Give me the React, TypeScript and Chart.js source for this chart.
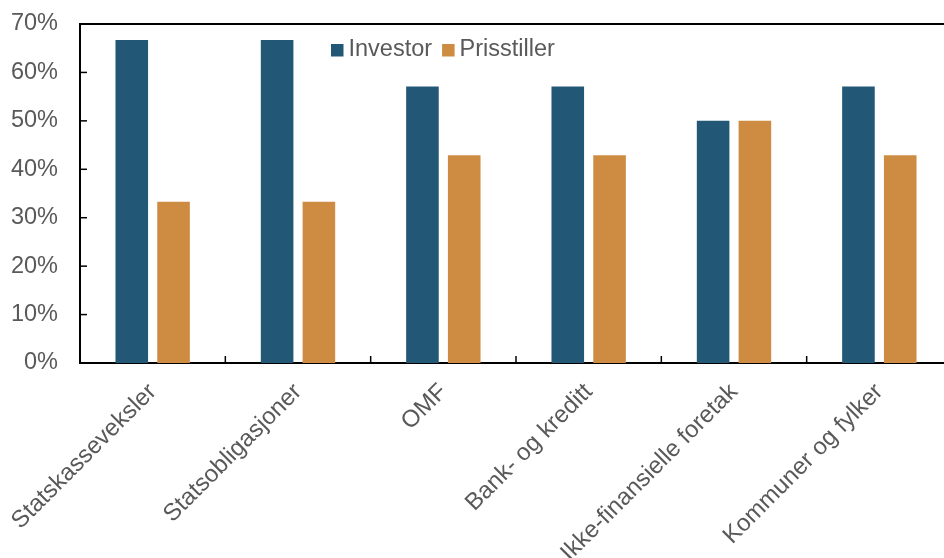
import React, { useEffect, useRef } from "react";
import { Chart, registerables } from "chart.js";

Chart.register(...registerables);

const categories = [
  "Statskasseveksler",
  "Statsobligasjoner",
  "OMF",
  "Bank- og kreditt",
  "Ikke-finansielle foretak",
  "Kommuner og fylker",
];
const investorValues = [66.7, 66.7, 57.1, 57.1, 50, 57.1];
const prisstillerValues = [33.3, 33.3, 42.9, 42.9, 50, 42.9];
const yTicks = [0, 10, 20, 30, 40, 50, 60, 70];

const BLUE = "#225876";
const ORANGE = "#ce8c42";
const TEXT = "#595959";
const FONT = "'Liberation Sans', Arial, sans-serif";
const FSIZE = 23.5;

const framePlugin = {
  id: "frame",
  afterDraw(chart: any) {
    const { ctx, chartArea } = chart;
    const x = chart.scales.x;
    const y = chart.scales.y;
    ctx.save();
    ctx.strokeStyle = "#000";
    // top border
    ctx.lineWidth = 2;
    ctx.beginPath();
    ctx.moveTo(chartArea.left - 1, chartArea.top);
    ctx.lineTo(chartArea.right, chartArea.top);
    ctx.stroke();
    // inward y ticks
    ctx.lineWidth = 1.5;
    yTicks.forEach((v) => {
      const py = y.getPixelForValue(v);
      ctx.beginPath();
      ctx.moveTo(chartArea.left, py);
      ctx.lineTo(chartArea.left + 7, py);
      ctx.stroke();
    });
    // inward x ticks at category boundaries
    for (let i = 1; i < categories.length; i++) {
      const px = (x.getPixelForValue(i - 1) + x.getPixelForValue(i)) / 2;
      ctx.beginPath();
      ctx.moveTo(px, chartArea.bottom);
      ctx.lineTo(px, chartArea.bottom - 7);
      ctx.stroke();
    }
    // legend
    ctx.font = `${FSIZE}px ${FONT}`;
    ctx.textBaseline = "middle";
    ctx.textAlign = "left";
    let lx = 331;
    const ly = 50;
    chart.data.datasets.forEach((ds: any) => {
      ctx.fillStyle = ds.backgroundColor;
      ctx.fillRect(lx, ly - 6, 12.5, 12.5);
      ctx.fillStyle = TEXT;
      ctx.fillText(ds.label, lx + 17.5, ly);
      lx += 17.5 + ctx.measureText(ds.label).width + 10;
    });
    ctx.restore();
  },
};

export default function App() {
  const ref = useRef<HTMLCanvasElement>(null);
  useEffect(() => {
    document.body.style.margin = "0";
    document.body.style.overflow = "hidden";
    document.documentElement.style.overflow = "hidden";
    const chart = new Chart(ref.current as HTMLCanvasElement, {
      type: "bar",
      data: {
        labels: categories,
        datasets: [
          {
            label: "Investor",
            data: investorValues,
            backgroundColor: BLUE,
            categoryPercentage: 0.575,
            barPercentage: 0.78,
          },
          {
            label: "Prisstiller",
            data: prisstillerValues,
            backgroundColor: ORANGE,
            categoryPercentage: 0.575,
            barPercentage: 0.78,
          },
        ],
      },
      options: {
        animation: false,
        responsive: false,
        devicePixelRatio: 1,
        layout: { padding: { top: 24, left: 0, right: 0, bottom: 0 } },
        plugins: {
          legend: { display: false },
          tooltip: { enabled: false },
        },
        scales: {
          x: {
            grid: { display: false, drawTicks: false },
            border: { display: true, color: "#000", width: 2 },
            ticks: {
              color: TEXT,
              font: { size: 24, family: FONT },
              maxRotation: 45,
              minRotation: 45,
              autoSkip: false,
              padding: 15,
            },
            afterFit: (s: any) => {
              s.height = 195;
              s.paddingLeft = 0;
              s.paddingRight = 0;
            },
          },
          y: {
            min: 0,
            max: 70,
            grid: { display: false, drawTicks: false },
            border: { display: true, color: "#000", width: 2 },
            ticks: {
              stepSize: 10,
              color: TEXT,
              font: { size: FSIZE, family: FONT },
              padding: 22,
              callback: (v: any) => v + "%",
            },
            afterFit: (s: any) => {
              s.width = 80;
              s.paddingTop = 0;
              s.paddingBottom = 0;
            },
          },
        },
      },
      plugins: [framePlugin],
    });
    return () => chart.destroy();
  }, []);
  return (
    <div
      style={{
        position: "fixed",
        left: 0,
        top: 0,
        width: 944,
        height: 558,
        overflow: "hidden",
        background: "#fff",
      }}
    >
      <canvas ref={ref} width={952} height={558} style={{ display: "block" }} />
    </div>
  );
}
